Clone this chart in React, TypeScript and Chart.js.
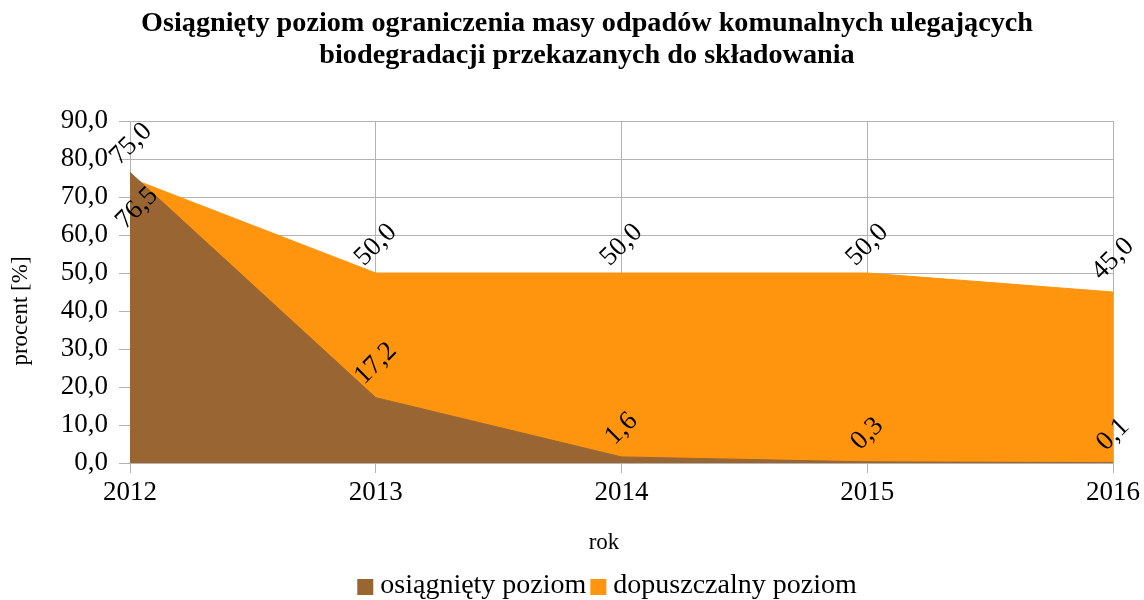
import React, { useEffect, useRef } from "react";
import { Chart, registerables } from "chart.js";

Chart.register(...registerables);

// ---------- data ----------
const TITLE_LINES = [
  "Osiągnięty poziom ograniczenia masy odpadów komunalnych ulegających",
  "biodegradacji przekazanych do składowania",
];
const YEARS = ["2012", "2013", "2014", "2015", "2016"];
const OSIAGNIETY = [76.5, 17.2, 1.6, 0.3, 0.1];
const DOPUSZCZALNY = [75.0, 50.0, 50.0, 50.0, 45.0];
const SERIES_NAMES = ["osiągnięty poziom", "dopuszczalny poziom"];
const Y_TITLE = "procent [%]";
const X_TITLE = "rok";
const Y_MIN = 0;
const Y_MAX = 90;
const Y_STEP = 10;

// ---------- style ----------
const BROWN = "#996633";
const ORANGE = "#ff950e";
const GRID = "#b3b3b3";
const FONT = '"Liberation Serif", "Times New Roman", serif';
// label offsets (px) relative to each point: [dx, dy] per dataset / point
const LABEL_DX = [
  [7, 0, 0, 0, 0],
  [1, 0, 0, 0, 0],
];
const LABEL_DY = [
  [36, -34, -28, -28, -28],
  [-34, -28, -28, -28, -33],
];

const fmt = (v: number) => v.toFixed(1).replace(".", ",");

const decor = {
  id: "decor",
  afterDatasetsDraw(chart: any) {
    const ctx = chart.ctx;
    ctx.save();
    ctx.font = `27px ${FONT}`;
    ctx.fillStyle = "#000";
    ctx.textAlign = "center";
    ctx.textBaseline = "middle";
    chart.data.datasets.forEach((ds: any, di: number) => {
      const meta = chart.getDatasetMeta(di);
      meta.data.forEach((pt: any, i: number) => {
        ctx.save();
        ctx.translate(pt.x + LABEL_DX[di][i], pt.y + LABEL_DY[di][i]);
        ctx.rotate(-Math.PI / 4);
        ctx.fillText(fmt(ds.data[i]), 0, 0);
        ctx.restore();
      });
    });
    ctx.restore();
  },
  afterDraw(chart: any) {
    const ctx = chart.ctx;
    ctx.save();
    ctx.fillStyle = "#000";
    // title (slightly condensed)
    ctx.font = `bold 27px ${FONT}`;
    ctx.textAlign = "center";
    ctx.textBaseline = "alphabetic";
    const w0 = ctx.measureText(TITLE_LINES[0]).width;
    const sx = 892 / w0;
    const baselines = [31, 63];
    TITLE_LINES.forEach((line, i) => {
      ctx.save();
      ctx.translate(587, baselines[i]);
      ctx.scale(sx, 1);
      ctx.fillText(line, 0, 0);
      ctx.restore();
    });
    // axis titles
    ctx.font = `23px ${FONT}`;
    ctx.textBaseline = "middle";
    ctx.fillText(X_TITLE, 604, 543);
    ctx.save();
    ctx.translate(21, 311);
    ctx.rotate(-Math.PI / 2);
    ctx.fillText(Y_TITLE, 0, 0);
    ctx.restore();
    // legend
    ctx.font = `28px ${FONT}`;
    ctx.textAlign = "left";
    const colors = [BROWN, ORANGE];
    const box = 16;
    const gapBoxText = 7;
    const gapItems = 4;
    let total = 0;
    SERIES_NAMES.forEach((name, i) => {
      total += box + gapBoxText + ctx.measureText(name).width + (i < SERIES_NAMES.length - 1 ? gapItems : 0);
    });
    let x = 607 - total / 2;
    const cy = 586;
    SERIES_NAMES.forEach((name, i) => {
      ctx.fillStyle = colors[i];
      ctx.fillRect(x, cy - box / 2 + 1, box, box);
      x += box + gapBoxText;
      ctx.fillStyle = "#000";
      ctx.fillText(name, x, cy);
      x += ctx.measureText(name).width + gapItems;
    });
    ctx.restore();
  },
};

export default function App() {
  const ref = useRef<HTMLCanvasElement | null>(null);
  useEffect(() => {
    document.body.style.margin = "0";
    const canvas = ref.current!;
    const chart = new Chart(canvas, {
      type: "line",
      data: {
        labels: YEARS,
        datasets: [
          {
            label: SERIES_NAMES[0],
            data: OSIAGNIETY,
            backgroundColor: BROWN,
            borderColor: BROWN,
            borderWidth: 1,
            pointRadius: 0,
            fill: "origin",
            tension: 0,
          },
          {
            label: SERIES_NAMES[1],
            data: DOPUSZCZALNY,
            backgroundColor: ORANGE,
            borderColor: ORANGE,
            borderWidth: 1,
            pointRadius: 0,
            fill: "origin",
            tension: 0,
          },
        ],
      },
      options: {
        responsive: false,
        animation: false,
        events: [],
        layout: { padding: { top: 121, right: 29, left: 0, bottom: 0 } },
        plugins: {
          legend: { display: false },
          title: { display: false },
          tooltip: { enabled: false },
        },
        scales: {
          x: {
            type: "category",
            offset: false,
            grid: { color: GRID, tickLength: 10, drawOnChartArea: true },
            border: { color: GRID },
            ticks: {
              color: "#000",
              font: { family: FONT, size: 27 },
              padding: 4,
              maxRotation: 0,
              autoSkip: false,
            },
            afterFit: (s: any) => {
              s.height = 137;
            },
          },
          y: {
            min: Y_MIN,
            max: Y_MAX,
            grid: { color: GRID, tickLength: 11 },
            border: { color: GRID },
            ticks: {
              stepSize: Y_STEP,
              color: "#000",
              font: { family: FONT, size: 27 },
              padding: 11,
              callback: (v: any) => fmt(Number(v)),
            },
            afterFit: (s: any) => {
              s.width = 130;
            },
          },
        },
      },
      plugins: [decor],
    });
    return () => chart.destroy();
  }, []);
  return <canvas ref={ref} width={1144} height={600} style={{ display: "block" }} />;
}
